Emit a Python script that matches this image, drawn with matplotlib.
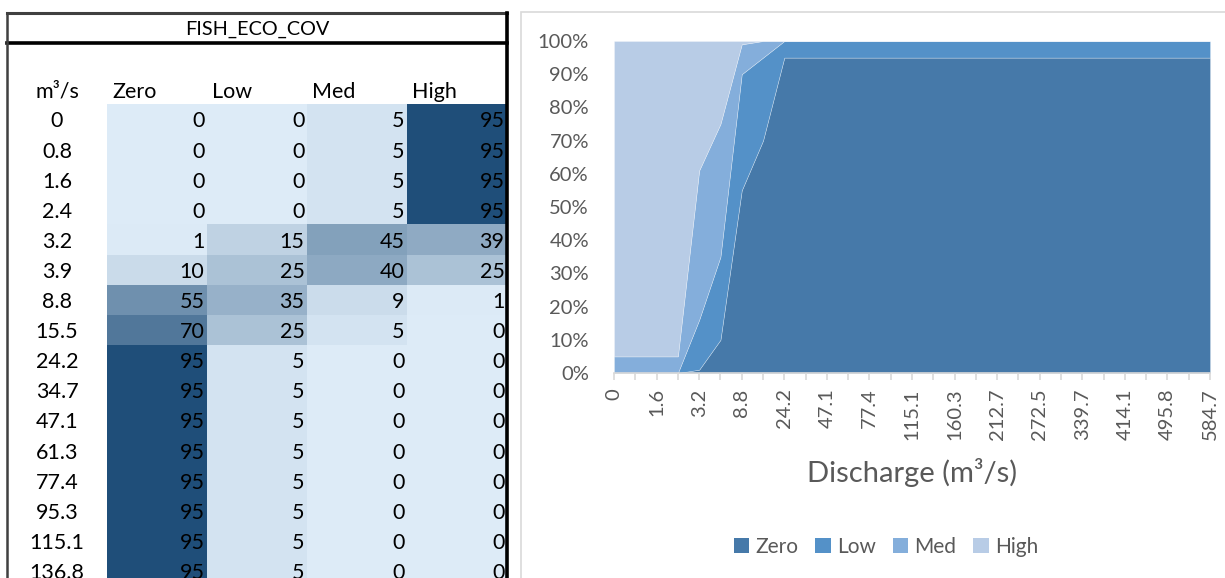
import matplotlib
matplotlib.use("Agg")
import matplotlib.pyplot as plt
import numpy as np
from matplotlib.colors import LinearSegmentedColormap
from matplotlib.patches import Rectangle
from matplotlib.lines import Line2D

# ---------------- data ----------------
discharge = ["0", "0.8", "1.6", "2.4", "3.2", "3.9", "8.8", "15.5", "24.2", "34.7",
             "47.1", "61.3", "77.4", "95.3", "115.1", "136.8", "160.3", "185.6",
             "212.7", "241.4", "272.5", "305.1", "339.7", "376.0", "414.1", "454.1",
             "495.8", "539.4", "584.7"]
series_names = ["Zero", "Low", "Med", "High"]
zero = [0, 0, 0, 0, 1, 10, 55, 70] + [95] * 21
low = [0, 0, 0, 0, 15, 25, 35, 25] + [5] * 21
med = [5, 5, 5, 5, 45, 40, 9, 5] + [0] * 21
high = [95, 95, 95, 95, 39, 25, 1, 0] + [0] * 21
table_title = "FISH_ECO_COV"
unit_label = "m³/s"
xlabel = "Discharge (m³/s)"

area_colors = ["#4679A9", "#5491C8", "#84AEDB", "#B8CCE6"]
gray_text = "#595959"

W, H = 1225, 578
fig = plt.figure(figsize=(W / 100, H / 100), dpi=100)
plt.rcParams['font.family'] = ['Lato', 'DejaVu Sans']


def fx(px):
    return px / W


def fy(py):
    return 1 - py / H


# ---------------- left table ----------------
row_h = 30.1
tab_top, tab_bot = 13, 578
first_row_top = 104
tab = fig.add_axes([fx(7), fy(tab_bot), fx(507 - 7), (tab_bot - tab_top) / H])
y_top = -(first_row_top - tab_top) / row_h
y_bot = (tab_bot - first_row_top) / row_h
tab.set_xlim(0, 5)
tab.set_ylim(y_bot, y_top)
tab.axis("off")

n_vis = int(np.ceil(y_bot))
vals = np.array([zero, low, med, high]).T  # rows x 4
cmap = LinearSegmentedColormap.from_list("xl", ["#DDEBF7", "#1F4E79"])
xe = np.arange(1, 6)
ye = np.arange(0, n_vis + 1)
tab.pcolormesh(xe, ye, vals[:n_vis], cmap=cmap, vmin=0, vmax=95, shading="flat")

for i in range(n_vis):
    tab.text(0.5, i + 0.58, discharge[i], ha="center", va="center", fontsize=15.5,
             color="black", clip_on=True)
    for j in range(4):
        tab.text(j + 2 - 0.025, i + 0.58, str(vals[i, j]), ha="right", va="center",
                 fontsize=15.5, color="black", clip_on=True)

tab.text(0.5, -0.4, unit_label, ha="center", va="center", fontsize=15.5, color="black")
for j, nm in enumerate(series_names):
    tab.text(j + 1.05, -0.4, nm, ha="left", va="center", fontsize=15.5, color="black")

title_bottom = -(first_row_top - 43) / row_h
tab.text(2.5, (y_top + title_bottom) / 2 + 0.05, table_title, ha="center", va="center",
         fontsize=14.3, color="black")

# borders
tab.add_line(Line2D([0, 5], [y_top, y_top], color="#404040", lw=2.2, clip_on=False))
tab.add_line(Line2D([0, 5], [title_bottom, title_bottom], color="black", lw=2.6, clip_on=False))
tab.add_line(Line2D([0, 0], [y_top, y_bot], color="#404040", lw=1.8, clip_on=False))
tab.add_line(Line2D([5, 5], [y_top, y_bot], color="black", lw=2.6, clip_on=False))

# ---------------- chart frame ----------------
fig.patches.append(Rectangle((fx(521), fy(700)), fx(800), (700 - 12) / H,
                             transform=fig.transFigure, fill=False,
                             edgecolor="#D9D9D9", lw=1.2))

# ---------------- area chart ----------------
ax = fig.add_axes([fx(614), fy(373), fx(1210 - 614), (373 - 41) / H])
xi = np.arange(len(discharge))
polys = ax.stackplot(xi, zero, low, med, high, colors=area_colors, labels=series_names,
                     edgecolor="white", linewidth=0.4)
for p in polys:
    p.set_edgecolor((1, 1, 1, 0.45))
ax.set_xlim(0, len(discharge) - 1)
ax.set_ylim(0, 100)
ax.set_yticks(np.arange(0, 101, 10))
ax.set_yticklabels([f"{v}%" for v in range(0, 101, 10)])
ax.set_xticks(xi)
ax.set_xticklabels([d if k % 2 == 0 else "" for k, d in enumerate(discharge)],
                   rotation=90)
for s in ["top", "right", "left"]:
    ax.spines[s].set_visible(False)
ax.spines["bottom"].set_color("#D9D9D9")
ax.spines["bottom"].set_linewidth(1.2)
ax.spines["bottom"].set_zorder(5)
ax.tick_params(axis="x", length=5, width=1.2, color="#D9D9D9", labelsize=14.5,
               labelcolor=gray_text, pad=6)
ax.tick_params(axis="y", length=0, labelsize=14.5, labelcolor=gray_text, pad=18)
ax.set_xlabel(xlabel, fontsize=21, color=gray_text, labelpad=13)

handles = [Rectangle((0, 0), 1, 1, facecolor=c) for c in area_colors]
fig.legend(handles, series_names, loc="center", bbox_to_anchor=(fx(886), fy(547)),
           ncol=4, frameon=False, fontsize=15, labelcolor=gray_text,
           handlelength=0.75, handleheight=0.75, handletextpad=0.3, columnspacing=0.8)

fig.savefig("out.png", dpi=100)
